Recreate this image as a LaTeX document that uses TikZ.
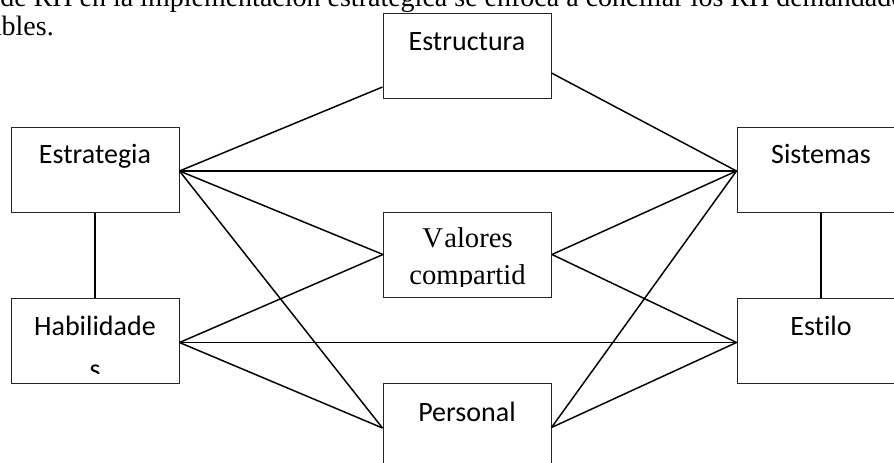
\documentclass[tikz,border=0pt]{standalone}
\usepackage{fontspec}
\setmainfont{Liberation Serif}
\newfontfamily\calib[Ligatures=NoCommon]{Carlito}
\usetikzlibrary{calc}
\begin{document}
\begin{tikzpicture}[x=0.75pt,y=-0.75pt,
  box/.style={draw=black!85,line width=0.75pt,rectangle,inner sep=0pt,
    minimum width=126pt,minimum height=63.75pt},
  lbl/.style={anchor=base,inner sep=0pt,font=\calib\fontsize{21}{25}\selectfont},
  slbl/.style={anchor=base,inner sep=0pt,font=\fontsize{21.5}{25}\selectfont},
  para/.style={anchor=base west,inner sep=0pt,font=\fontsize{21}{25}\selectfont},
  link/.style={draw=black,line width=1.1pt}]
\useasboundingbox (0,0) rectangle (894,462);
\clip (0,0) rectangle (894,462);
\fill[white] (0,0) rectangle (894,462);

% text above the figure
\node[para] (par1) at (0,6) {de RH en la implementación estratégica se enfoca a conciliar los RH demandados};
\node[para] (par2) at (-11,35) {ables.};

% boxes
\node[box] (estrat) at (95,169.5) {};
\node[box] (habil)  at (95,340.5) {};
\node[box] (estruc) at (467,55.5) {};
\node[box] (valor)  at (467.5,254.5) {};
\node[box] (pers)   at (467,425.5) {};
\node[box] (sist)   at (821,169.5) {};
\node[box] (estilo) at (821,340.5) {};

% labels
\node[lbl] (estrat-t) at (95,163) {Estrategia};
\node[lbl] (estruc-t) at (467,50) {Estructura};
\node[lbl] (sist-t)   at (821,163) {Sistemas};
\node[lbl] (estilo-t) at (821,335) {Estilo};
\node[lbl] (pers-t)   at (467,421) {Personal};
\begin{scope}
  \clip (11,298) rectangle (179,373);
  \node[lbl] (habil-t)  at (95,335) {Habilidade};
  \node[lbl] (habil-t2) at (95,378) {s};
\end{scope}
\begin{scope}
  \clip (383,212) rectangle (552,286);
  \node[slbl] (valor-t)  at (467.5,247) {V\kern1pt alores};
  \node[slbl] (valor-t2) at (467.5,284.5) {compartid};
\end{scope}

% connection points
\coordinate (estratE) at ($(estrat.east)+(0,1.5)$);
\coordinate (habilE)  at ($(habil.east)+(0,2)$);
\coordinate (sistW)   at ($(sist.west)+(0,1.5)$);
\coordinate (estiloW) at ($(estilo.west)+(0,2)$);
\coordinate (estrucW) at ($(estruc.west)+(0,31.5)$);
\coordinate (estrucE) at ($(estruc.east)+(0,17.5)$);
\coordinate (persW)   at ($(pers.west)+(0,2.5)$);
\coordinate (persE)   at ($(pers.east)+(0,2)$);

% connectors
\draw[link] (estrat.south) -- (habil.north);
\draw[link] (sist.south) -- (estilo.north);
\draw[link] (estratE) -- (estrucW);
\draw[link] (estratE) -- (sistW);
\draw[link] (estratE) -- (valor.west);
\draw[link] (estratE) -- (persW);
\draw[link] (estrucE) -- (sistW);
\draw[link] (sistW) -- (valor.east);
\draw[link] (sistW) -- (persE);
\draw[link] (habilE) -- (valor.west);
\draw[link] (habilE) -- (estiloW);
\draw[link] (habilE) -- (persW);
\draw[link] (estiloW) -- (valor.east);
\draw[link] (estiloW) -- (persE);
\end{tikzpicture}
\end{document}
